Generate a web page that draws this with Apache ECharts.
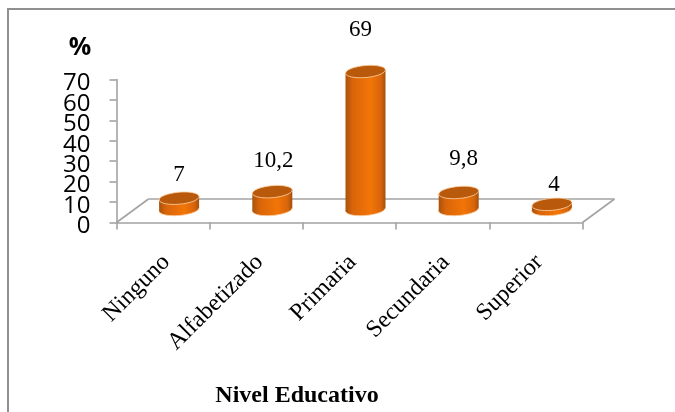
<!DOCTYPE html>
<html>
<head>
<meta charset="utf-8">
<style>html,body{margin:0;padding:0;background:#fff}#chart{width:675px;height:412px}</style>
<script src="https://cdn.jsdelivr.net/npm/echarts@6/dist/echarts.min.js"></script>
</head>
<body>
<div id="chart"></div>
<script>
const categories = ['Ninguno', 'Alfabetizado', 'Primaria', 'Secundaria', 'Superior'];
const percentages = [7, 10.2, 69, 9.8, 4];
const yTickLabels = [0, 10, 20, 30, 40, 50, 60, 70];
const xAxisTitle = 'Nivel Educativo';
const yAxisTitle = '%';

// Oblique projection of the floor and the columns standing on it
const DEPTH_X = 32, DEPTH_Y = 23.5;
const COLUMN_RX = 20, COLUMN_RY = 6, TILT = 0.09;
const BASE_LIFT = 13, TOP_LIFT = 10;
// Hand-placed value labels, relative to each column's top
const labelNudge = [[0, -23], [1, -31], [-5, -42], [5, -34], [2, -19]];

const GREY = '#a3a3a3';
const bodyFill = new echarts.graphic.LinearGradient(0, 0, 1, 0, [
  { offset: 0, color: '#a9520c' },
  { offset: 0.18, color: '#d9650a' },
  { offset: 0.62, color: '#f27507' },
  { offset: 0.88, color: '#d9650a' },
  { offset: 1, color: '#a3500e' }
]);

function renderFloor(params, api) {
  const g = params.coordSys;
  const left = g.x, right = g.x + g.width, front = g.y + g.height;
  const back = front - DEPTH_Y;
  const line = (x1, y1, x2, y2) => ({
    type: 'line',
    shape: { x1, y1, x2, y2 },
    style: { stroke: GREY, lineWidth: 1.6, fill: null }
  });
  return {
    type: 'group',
    silent: true,
    children: [
      line(left, front, left + DEPTH_X, back),
      line(left + DEPTH_X, back, right + DEPTH_X, back),
      line(right + DEPTH_X, back, right, front)
    ]
  };
}

function ellipseAt(cx, cy, fill, z2) {
  return {
    type: 'ellipse',
    z2,
    shape: { cx: 0, cy: 0, rx: COLUMN_RX, ry: COLUMN_RY },
    x: cx,
    y: cy,
    rotation: TILT,
    style: { fill, stroke: '#fbd0a4', lineWidth: 0.8 }
  };
}

function renderColumn(params, api) {
  const idx = api.value(0);
  const value = api.value(1);
  const top = api.coord([idx, value]);
  const zero = api.coord([idx, 0]);
  const cx = top[0] + DEPTH_X / 2;
  const topY = top[1] - TOP_LIFT;
  const baseY = zero[1] - BASE_LIFT;
  const dy = COLUMN_RX * Math.sin(TILT);
  const nudge = labelNudge[idx];
  return {
    type: 'group',
    silent: true,
    children: [
      ellipseAt(cx, baseY, bodyFill, 1),
      {
        type: 'polygon',
        z2: 2,
        shape: {
          points: [
            [cx - COLUMN_RX, topY + dy],
            [cx + COLUMN_RX, topY - dy],
            [cx + COLUMN_RX, baseY - dy],
            [cx - COLUMN_RX, baseY + dy]
          ]
        },
        style: { fill: bodyFill }
      },
      ellipseAt(cx, topY, '#b9590c', 3),
      {
        type: 'text',
        z2: 4,
        x: cx + nudge[0],
        y: topY + nudge[1],
        style: {
          text: String(value).replace('.', ','),
          fill: '#000',
          font: '23px "Liberation Serif"',
          align: 'center',
          verticalAlign: 'middle'
        }
      }
    ]
  };
}

// The tick labels sit closer together than their line height, so they are
// placed on the value scale directly and every one of them stays visible.
function renderTickLabel(params, api) {
  const value = api.value(1);
  const pos = api.coord([0, value]);
  return {
    type: 'text',
    silent: true,
    x: params.coordSys.x - 26,
    y: pos[1] + 4,
    style: {
      text: String(value),
      fill: '#000',
      font: '24px "Open Sans"',
      align: 'right',
      verticalAlign: 'middle'
    }
  };
}

const chart = echarts.init(document.getElementById('chart'), null, { renderer: 'canvas' });
chart.setOption({
  animation: false,
  backgroundColor: '#fff',
  grid: { left: 116.5, right: 92.5, top: 79.5, bottom: 189.5, containLabel: false },
  title: [
    {
      text: xAxisTitle, left: 292, top: 379, textAlign: 'center',
      textStyle: { fontFamily: 'Liberation Serif', fontWeight: 'bold', fontSize: 24, color: '#000' }
    },
    {
      text: yAxisTitle, left: 75, top: 30, textAlign: 'center',
      textStyle: { fontFamily: 'Open Sans', fontWeight: 'bold', fontSize: 25, color: '#000' }
    }
  ],
  xAxis: {
    type: 'category',
    data: categories,
    boundaryGap: true,
    axisLine: { lineStyle: { color: GREY, width: 1.6 } },
    axisTick: { show: true, length: 7, lineStyle: { color: GREY, width: 1.6 } },
    axisLabel: {
      interval: 0, rotate: 45, margin: 33,
      formatter: (name) => '{cat|' + name + '}',
      rich: {
        cat: {
          fontFamily: 'Liberation Serif', fontSize: 24, color: '#000',
          lineHeight: 24, padding: [9, 0, 0, 0]
        }
      }
    }
  },
  yAxis: {
    type: 'value',
    min: yTickLabels[0],
    max: yTickLabels[yTickLabels.length - 1],
    interval: yTickLabels[1] - yTickLabels[0],
    splitLine: { show: false },
    axisLine: { show: true, lineStyle: { color: GREY, width: 1.6 } },
    axisTick: { show: true, length: 7, lineStyle: { color: GREY, width: 1.6 } },
    axisLabel: { show: false }
  },
  series: [
    { type: 'custom', z: 1, renderItem: renderFloor, data: [[0, 0]], clip: false, silent: true },
    {
      type: 'custom', z: 2, renderItem: renderColumn, clip: false,
      encode: { x: 0, y: 1 },
      data: percentages.map((v, i) => [i, v])
    },
    {
      type: 'custom', z: 3, renderItem: renderTickLabel, clip: false, silent: true,
      encode: { x: 0, y: 1 },
      data: yTickLabels.map((v) => [0, v])
    }
  ],
  graphic: [
    // Page frame: runs along the top and down the left side only
    {
      type: 'polyline', silent: true,
      shape: { points: [[675, 9], [8, 9], [8, 412]] },
      style: { stroke: '#8f8f8f', lineWidth: 2, fill: null }
    }
  ]
});
</script>
</body>
</html>
